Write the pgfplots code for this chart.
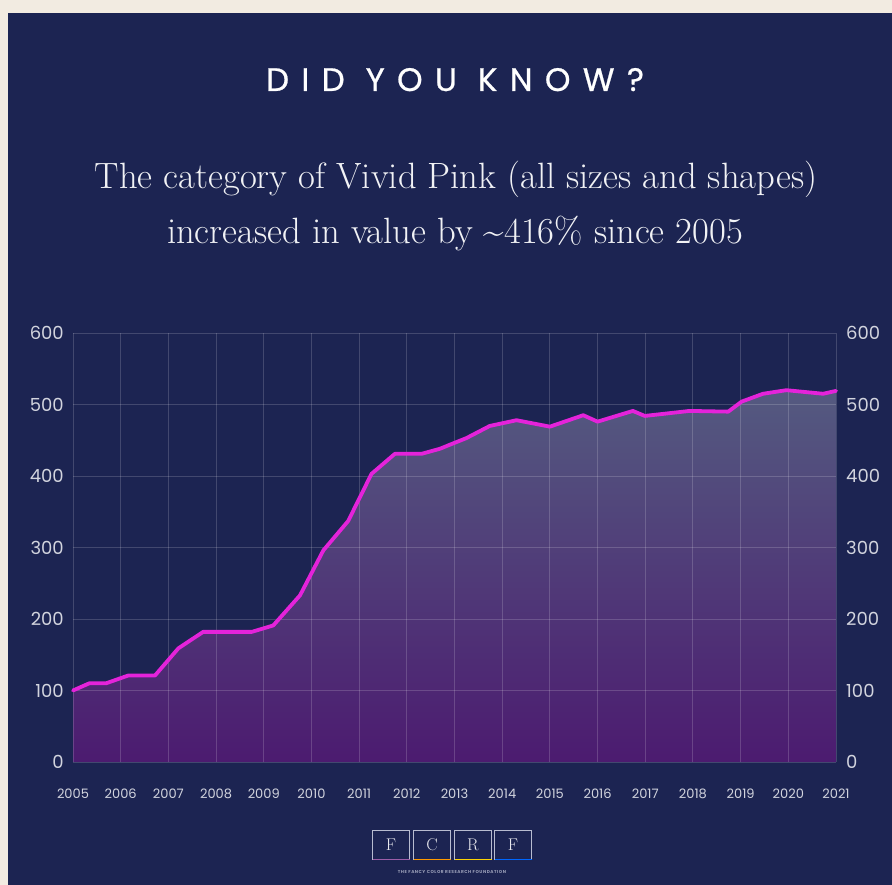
\documentclass[border=0pt]{standalone}
\usepackage{pgfplots}
\pgfplotsset{compat=1.18}
\usepackage{fontspec}
\newfontfamily\pop{Poppins}
\newfontfamily\titlefont[LetterSpace=38, FakeBold=0.7]{Poppins}
\newfontfamily\smallfont[LetterSpace=12]{Poppins}
\definecolor{cream}{HTML}{F2EBE1}
\definecolor{navy}{HTML}{1C2452}
\definecolor{magentaline}{HTML}{E423DA}
\definecolor{filltop}{HTML}{545A80}
\definecolor{fillbot}{HTML}{4C1B70}
\definecolor{ticklab}{HTML}{D2D4DE}
\definecolor{logogrey}{HTML}{B8BCD0}
\begin{document}
\begin{tikzpicture}
\begin{scope}[x=1pt,y=1pt]
\fill[cream] (0,0) rectangle (892,885);
\fill[navy] (8,0) rectangle (892,872);
\node[text=white, anchor=base] at (455,794) {\titlefont\fontsize{32.5}{36}\selectfont DID YOU KNOW?};
\node[text=white!94!navy, anchor=base] at (456,696) {\fontsize{36.6}{44}\selectfont The category of Vivid Pink (all sizes and shapes)};
\node[text=white!94!navy, anchor=base] at (455,641) {\fontsize{36.6}{44}\selectfont increased in value by \textasciitilde 416\% since 2005};
% logo
\foreach \cx/\l/\bc in {391/F/violet!50!logogrey, 432/C/orange!80!yellow, 473/R/yellow!70!orange, 513/F/blue!60!cyan}{
  \draw[logogrey, line width=1.1pt] (\cx-18.5,25.5) rectangle (\cx+18.5,54.5);
  \draw[\bc, line width=1.3pt] (\cx-18.5,25.5) -- (\cx+18.5,25.5);
  \node[text=white!90!navy] at (\cx,40) {\fontsize{17}{18}\selectfont \l};
}
\node[text=logogrey!80!navy] at (452,13) {\smallfont\bfseries\fontsize{4.3}{5}\selectfont THE FANCY COLOR RESEARCH FOUNDATION};
\end{scope}
\begin{axis}[
  at={(73pt,123pt)}, anchor=south west,
  width=763pt, height=429pt, scale only axis,
  set layers, axis on top,
  xmin=2005, xmax=2021, ymin=0, ymax=600,
  xtick={2005,2006,...,2021}, ytick={0,100,...,600},
  grid=major,
  major grid style={white, opacity=0.17, line width=0.9pt},
  axis line style={draw=none},
  major tick length=0pt,
  /pgf/number format/assume math mode=true,
  /pgf/number format/set thousands separator={},
  yticklabel pos=left,
  xticklabel style={font=\pop\fontsize{13}{14}\selectfont, text=ticklab, anchor=center, yshift=-32pt},
  yticklabel style={font=\pop\fontsize{18}{20}\selectfont, text=ticklab, anchor=east, inner sep=0pt, xshift=-9pt},
]
\addplot[draw=none, top color=filltop, bottom color=fillbot] coordinates {
(2005.0,100) (2005.34,110) (2005.69,110) (2006.16,121) (2006.72,121) (2007.21,159) (2007.73,182) (2008.75,182) (2009.2,191) (2009.76,233) (2010.25,296) (2010.77,337) (2011.26,403) (2011.75,431) (2012.31,431) (2012.69,438) (2013.25,453) (2013.74,470) (2014.3,478) (2015.0,469) (2015.7,485) (2016.0,476) (2016.74,491) (2016.99,484) (2017.93,491) (2018.74,490) (2019.02,504) (2019.47,515) (2019.96,520) (2020.73,515) (2021.0,519)
} \closedcycle;
\addplot[magentaline, line width=3.8pt, line join=round, line cap=round, on layer=axis foreground] coordinates {
(2005.0,100) (2005.34,110) (2005.69,110) (2006.16,121) (2006.72,121) (2007.21,159) (2007.73,182) (2008.75,182) (2009.2,191) (2009.76,233) (2010.25,296) (2010.77,337) (2011.26,403) (2011.75,431) (2012.31,431) (2012.69,438) (2013.25,453) (2013.74,470) (2014.3,478) (2015.0,469) (2015.7,485) (2016.0,476) (2016.74,491) (2016.99,484) (2017.93,491) (2018.74,490) (2019.02,504) (2019.47,515) (2019.96,520) (2020.73,515) (2021.0,519)
};
\end{axis}
\begin{axis}[
  at={(73pt,123pt)}, anchor=south west,
  width=763pt, height=429pt, scale only axis,
  xmin=2005, xmax=2021, ymin=0, ymax=600,
  ytick={0,100,...,600}, xtick=\empty,
  axis line style={draw=none},
  major tick length=0pt,
  yticklabel pos=right,
  /pgf/number format/assume math mode=true,
  yticklabel style={font=\pop\fontsize{18}{20}\selectfont, text=ticklab, anchor=west, inner sep=0pt, xshift=10pt},
]
\end{axis}
\end{tikzpicture}
\end{document}
